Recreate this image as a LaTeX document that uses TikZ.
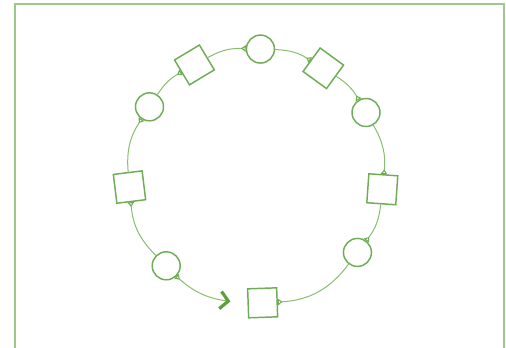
\documentclass[tikz,border=0pt]{standalone}
\usetikzlibrary{arrows.meta}
\definecolor{nodegreen}{HTML}{6EAD55}
\definecolor{linegreen}{HTML}{88BE70}
\definecolor{framegreen}{HTML}{9CC98A}
\definecolor{arrowgreen}{HTML}{5BA03C}
\begin{document}
\begin{tikzpicture}[x=0.75pt,y=0.75pt,
  circ/.style={circle,draw=nodegreen,line width=1.1pt,minimum size=21pt,inner sep=0pt,fill=white},
  sq/.style={rectangle,draw=nodegreen,line width=1.1pt,minimum size=21.75pt,inner sep=0pt,fill=white},
  link/.style={draw=linegreen,line width=0.75pt,
     {Triangle[open,reversed,length=3.5pt,width=5pt,line width=0.8pt,color=nodegreen]}-},
  lastlink/.style={draw=linegreen,line width=0.75pt,
     {Triangle[open,reversed,length=3.5pt,width=5pt,line width=0.8pt,color=nodegreen]}-{Straight Barb[length=6pt,width=13pt,line width=2.4pt,color=arrowgreen]}}
]
\useasboundingbox (0,0) rectangle (506,347);
\draw[framegreen,line width=1.5pt] (15,-5) -- (15,343) -- (504,343) -- (504,-5);
\begin{scope}[shift={(256,171)}]
  \node[sq,rotate=2]    (bs)  at (-87:127) {};
  \node[circ]           (lrc) at (-37:127) {};
  \node[sq,rotate=-4]   (rs)  at (-6:127) {};
  \node[circ]           (rc)  at (30:127) {};
  \node[sq,rotate=-36]  (urs) at (58:127) {};
  \node[circ]           (tc)  at (88:127) {};
  \node[sq,rotate=31]   (uls) at (119:127) {};
  \node[circ]           (ulc) at (147:127) {};
  \node[sq,rotate=7]    (ls)  at (185:127) {};
  \node[circ]           (llc) at (225:127) {};
  \coordinate           (end) at (258.5:128);
\end{scope}
\draw[link] (bs)  to[bend right=25]   (lrc);
\draw[link] (lrc) to[bend right=15.5] (rs);
\draw[link] (rs)  to[bend right=18]   (rc);
\draw[link] (rc)  to[bend right=14]   (urs);
\draw[link] (urs) to[bend right=15]   (tc);
\draw[link] (tc)  to[bend right=15.5] (uls);
\draw[link] (uls) to[bend right=14]   (ulc);
\draw[link] (ulc) to[bend right=19]   (ls);
\draw[link] (ls)  to[bend right=20]   (llc);
\draw[lastlink] (llc) to[bend right=17] (end);
\end{tikzpicture}
\end{document}
